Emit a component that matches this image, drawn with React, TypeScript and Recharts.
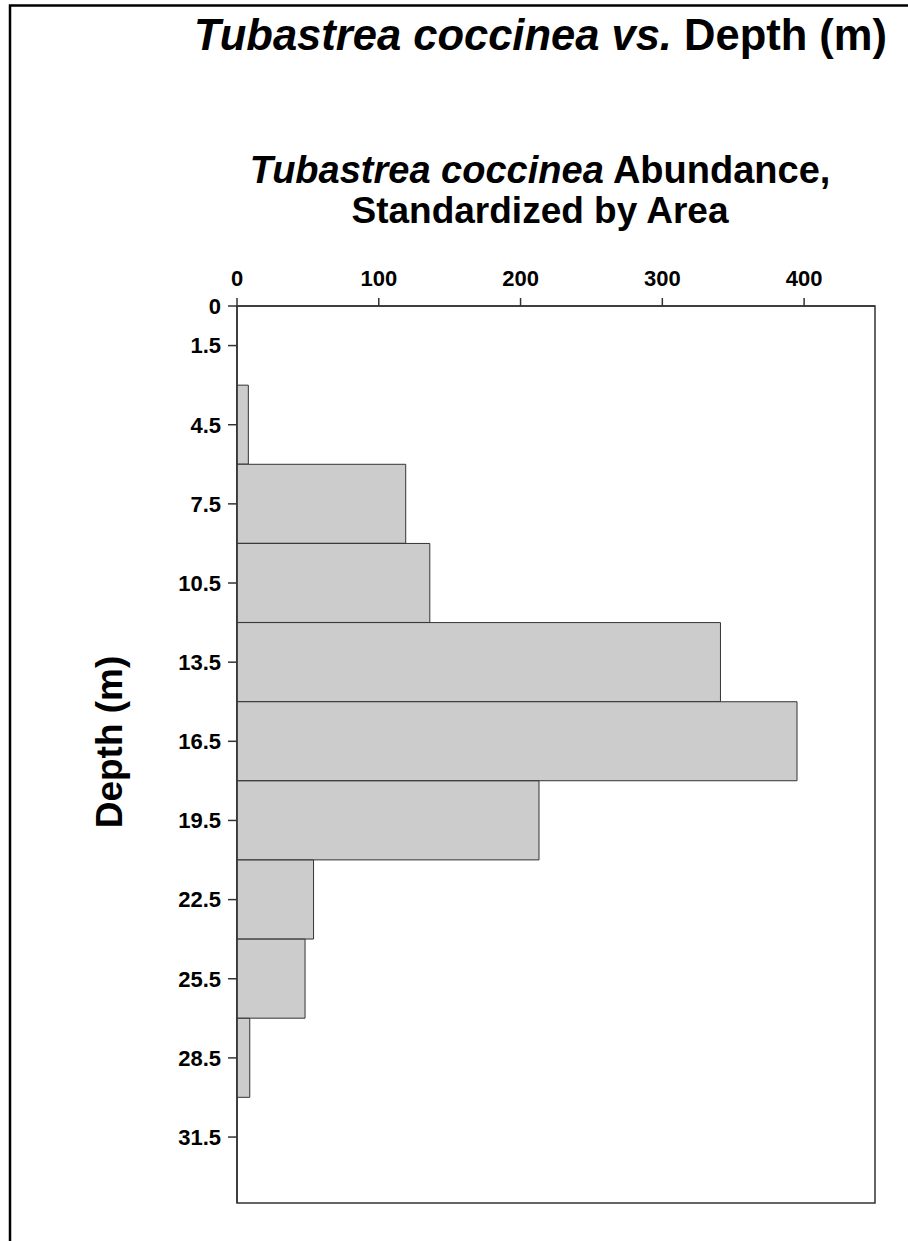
import React from 'react';
import { BarChart, Bar, XAxis, YAxis, ReferenceArea } from 'recharts';

// depth bin midpoints (m), 3 m bins
const depths = [1.5, 4.5, 7.5, 10.5, 13.5, 16.5, 19.5, 22.5, 25.5, 28.5, 31.5];
// abundance standardized by area
const abundance = [0, 8, 119, 136, 341, 395, 213, 54, 48, 9, 0];

const xTicks = [0, 100, 200, 300, 400];
const yTicks = [0, 1.5, 4.5, 7.5, 10.5, 13.5, 16.5, 19.5, 22.5, 25.5, 28.5, 31.5];

const data = depths.map((d, i) => ({ depth: d, value: abundance[i] }));

const W = 908;
const H = 1241;
const FONT = '"Liberation Sans", Arial, sans-serif';
const plot = { left: 237, top: 306, right: 875, bottom: 1203 };

const tickStyle = { fill: '#000', fontSize: 22, fontWeight: 700, fontFamily: FONT };

export default function App() {
  return (
    <div style={{ position: 'absolute', left: 0, top: 0, width: W, height: H, background: '#fff' }}>
      <BarChart
        width={W}
        height={H}
        layout="vertical"
        data={data}
        barCategoryGap={0}
        margin={{ top: plot.top - 40, left: plot.left - 70, right: W - plot.right, bottom: H - plot.bottom }}
      >
        <XAxis
          type="number"
          orientation="top"
          domain={[0, 450]}
          ticks={xTicks}
          height={40}
          tickSize={8}
          tickMargin={12}
          stroke="#333"
          strokeWidth={1.5}
          tick={tickStyle}
        />
        <YAxis
          type="number"
          dataKey="depth"
          domain={[0, 34]}
          ticks={yTicks}
          width={70}
          tickSize={9}
          tickMargin={7}
          stroke="#333"
          strokeWidth={1.5}
          tick={tickStyle}
        />
        <ReferenceArea x1={0} x2={450} y1={0} y2={34} fill="none" stroke="#333" strokeWidth={1.5} />
        <Bar
          dataKey="value"
          fill="#cccccc"
          stroke="#333"
          strokeWidth={1}
          isAnimationActive={false}
        />
      </BarChart>
      <svg
        width={W}
        height={H}
        style={{ position: 'absolute', left: 0, top: 0, pointerEvents: 'none' }}
        fontFamily={FONT}
        fontWeight={700}
      >
        <polyline points={`10,${H} 10,5.5 ${W},5.5`} fill="none" stroke="#000" strokeWidth={2.5} />
        <text x={194} y={50} fontSize={43.5}>
          <tspan fontStyle="italic">Tubastrea coccinea vs.</tspan> Depth (m)
        </text>
        <text x={540} y={183} fontSize={38} textAnchor="middle">
          <tspan fontStyle="italic">Tubastrea coccinea</tspan> Abundance,
        </text>
        <text x={540} y={223} fontSize={37} textAnchor="middle">
          Standardized by Area
        </text>
        <text x={122} y={742} fontSize={37} textAnchor="middle" transform="rotate(-90 122 742)">
          Depth (m)
        </text>
      </svg>
    </div>
  );
}
